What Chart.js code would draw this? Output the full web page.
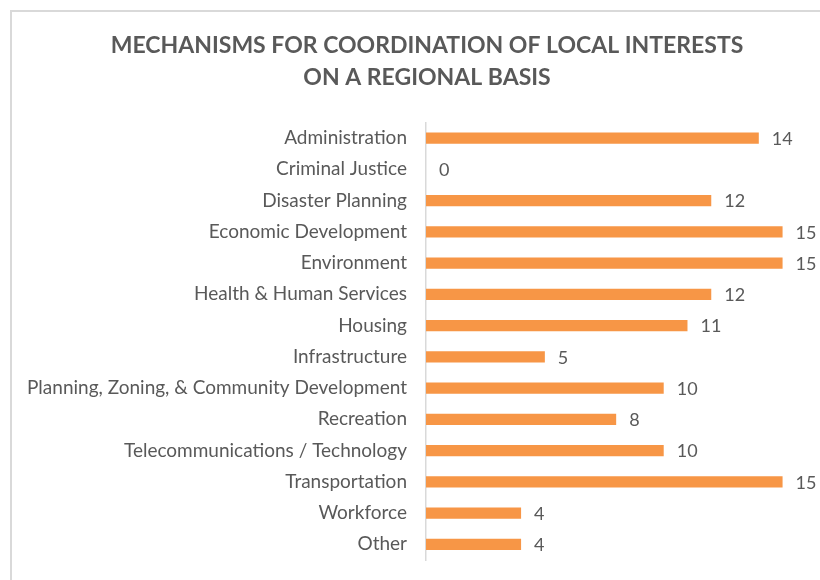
<!DOCTYPE html>
<html>
<head>
<meta charset="utf-8">
<script src="https://cdn.jsdelivr.net/npm/chart.js@4.4.0/dist/chart.umd.min.js"></script>
<style>
  html, body { margin: 0; padding: 0; background: #ffffff; overflow: hidden; width: 820px; height: 580px; }
  #frame { position: absolute; left: 10px; top: 10px; width: 830px; height: 600px; border: 2px solid #d9d9d9; background: #fff; }
  #c { display: block; }
</style>
</head>
<body>
<div id="frame"><canvas id="c" width="830" height="600"></canvas></div>
<script>
const titleLines = ['MECHANISMS FOR COORDINATION OF LOCAL INTERESTS', 'ON A REGIONAL BASIS'];
const categories = [
  'Administration',
  'Criminal Justice',
  'Disaster Planning',
  'Economic Development',
  'Environment',
  'Health & Human Services',
  'Housing',
  'Infrastructure',
  'Planning, Zoning, & Community Development',
  'Recreation',
  'Telecommunications / Technology',
  'Transportation',
  'Workforce',
  'Other'
];
const values = [14, 0, 12, 15, 15, 12, 11, 5, 10, 8, 10, 15, 4, 4];

const FONT = 'Lato';
const GRAY = '#595959';
const ORANGE = '#F79646';

const valueLabels = {
  id: 'valueLabels',
  afterDatasetsDraw(chart) {
    const ctx = chart.ctx;
    const meta = chart.getDatasetMeta(0);
    ctx.save();
    ctx.font = '18px ' + FONT;
    ctx.fillStyle = GRAY;
    ctx.textAlign = 'left';
    ctx.textBaseline = 'middle';
    meta.data.forEach((bar, i) => {
      ctx.fillText(String(values[i]), bar.x + 13, bar.y + 1);
    });
    ctx.restore();
  }
};

new Chart(document.getElementById('c'), {
  type: 'bar',
  data: {
    labels: categories,
    datasets: [{
      data: values,
      backgroundColor: ORANGE,
      borderWidth: 0,
      categoryPercentage: 1,
      barPercentage: 0.36
    }]
  },
  options: {
    indexAxis: 'y',
    responsive: false,
    animation: false,
    layout: { padding: { left: 0, right: 0, top: 0, bottom: 52 } },
    plugins: {
      legend: { display: false },
      tooltip: { enabled: false },
      title: {
        display: true,
        text: titleLines,
        color: GRAY,
        font: { family: FONT, size: 23, weight: 'bold', lineHeight: 1.4 },
        padding: { top: 17, bottom: 29 }
      }
    },
    scales: {
      x: { display: false, min: 0, max: 17.5 },
      y: {
        grid: { display: false, drawTicks: false },
        border: { display: true, color: '#d9d9d9', width: 1.5 },
        ticks: { color: GRAY, font: { family: FONT, size: 19 }, padding: 19 },
        afterFit(scale) { scale.width = 414; }
      }
    }
  },
  plugins: [valueLabels]
});
</script>
</body>
</html>
